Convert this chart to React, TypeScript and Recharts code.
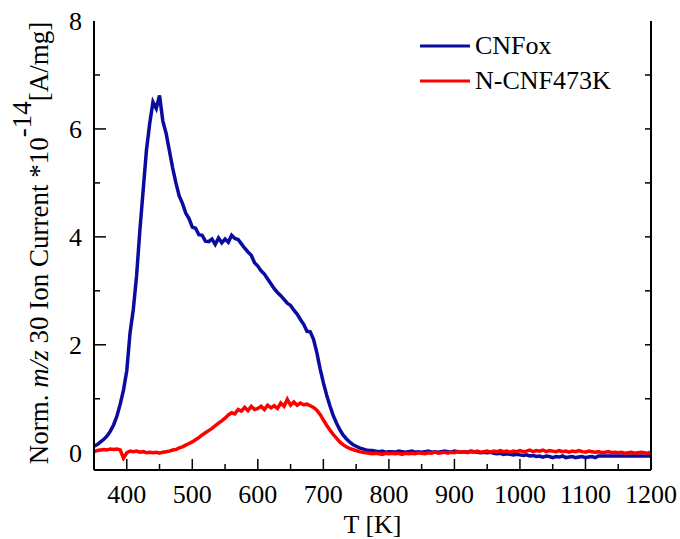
import { Legend, Line, LineChart, XAxis, YAxis } from "recharts";

// temperature grid [K]
const temperature = [
  350, 355, 360, 365, 370, 375, 380, 385, 390, 395, 400, 405, 410, 415, 420, 425, 430, 435, 440, 445,
  450, 455, 460, 465, 470, 475, 480, 485, 490, 495, 500, 505, 510, 515, 520, 525, 530, 535, 540, 545,
  550, 555, 560, 565, 570, 575, 580, 585, 590, 595, 600, 605, 610, 615, 620, 625, 630, 635, 640, 645,
  650, 655, 660, 665, 670, 675, 680, 685, 690, 695, 700, 705, 710, 715, 720, 725, 730, 735, 740, 745,
  750, 755, 760, 765, 770, 775, 780, 785, 790, 795, 800, 805, 810, 815, 820, 825, 830, 835, 840, 845,
  850, 855, 860, 865, 870, 875, 880, 885, 890, 895, 900, 905, 910, 915, 920, 925, 930, 935, 940, 945,
  950, 955, 960, 965, 970, 975, 980, 985, 990, 995, 1000, 1005, 1010, 1015, 1020, 1025, 1030, 1035, 1040, 1045,
  1050, 1055, 1060, 1065, 1070, 1075, 1080, 1085, 1090, 1095, 1100, 1105, 1110, 1115, 1120, 1125, 1130, 1135, 1140, 1145,
  1150, 1155, 1160, 1165, 1170, 1175, 1180, 1185, 1190, 1195, 1200,
];

const cnfox = [
  0.12, 0.15, 0.2, 0.25, 0.31, 0.4, 0.52, 0.68, 0.9, 1.16, 1.52, 2.22, 2.66, 3.28, 4.12, 4.86, 5.6, 6.1, 6.5, 6.38,
  6.62, 6.15, 5.92, 5.6, 5.28, 5.0, 4.76, 4.62, 4.44, 4.34, 4.18, 4.16, 4.04, 4.03, 3.92, 3.91, 3.96, 3.86, 3.98, 3.89,
  3.96, 3.9, 4.03, 3.97, 3.95, 3.87, 3.79, 3.72, 3.66, 3.52, 3.46, 3.37, 3.31, 3.22, 3.13, 3.04, 2.97, 2.91, 2.84, 2.77,
  2.73, 2.64, 2.57, 2.47, 2.38, 2.25, 2.24, 2.1, 1.86, 1.56, 1.3, 1.07, 0.87, 0.69, 0.55, 0.43, 0.33, 0.26, 0.2, 0.15,
  0.12, 0.09, 0.07, 0.05, 0.04, 0.04, 0.03, 0.02, 0.03, 0.01, 0.02, 0.02, 0.01, 0.03, 0.02, 0.01, 0.02, 0.03, 0.01, 0.02,
  0.01, 0.02, 0.03, 0.01, 0.02, 0.01, 0.02, 0.03, 0.02, 0.01, 0.03, 0.02, 0.01, 0.02, 0.01, 0.03, 0.02, 0.01, 0.0, 0.01,
  0.0, 0.01, -0.01, -0.02, -0.01, -0.03, -0.02, -0.03, -0.04, -0.03, -0.04, -0.05, -0.04, -0.06, -0.05, -0.07, -0.06, -0.08, -0.06, -0.07,
  -0.09, -0.07, -0.08, -0.06, -0.09, -0.08, -0.07, -0.09, -0.08, -0.07, -0.09, -0.08, -0.07, -0.09, -0.06, -0.06, -0.06, -0.06, -0.06, -0.06,
  -0.06, -0.06, -0.06, -0.06, -0.06, -0.06, -0.06, -0.06, -0.06, -0.06, -0.06,
];

const ncnf473k = [
  0.02, 0.04, 0.05, 0.06, 0.05, 0.07, 0.06, 0.07, 0.05, -0.1, 0.0, 0.03, 0.02, 0.03, 0.01, 0.02, 0.0, 0.01, 0.0, 0.01,
  -0.01, 0.01, 0.02, 0.03, 0.05, 0.06, 0.09, 0.11, 0.14, 0.17, 0.2, 0.24, 0.28, 0.33, 0.37, 0.41, 0.45, 0.5, 0.55, 0.59,
  0.64, 0.7, 0.74, 0.72, 0.8, 0.77, 0.84, 0.78, 0.86, 0.8, 0.82, 0.86, 0.8, 0.88, 0.83, 0.87, 0.82, 0.92, 0.86, 0.99,
  0.88, 0.94, 0.88, 0.92, 0.89, 0.9, 0.87, 0.84, 0.79, 0.71, 0.61, 0.51, 0.42, 0.34, 0.27, 0.2, 0.15, 0.11, 0.08, 0.06,
  0.04, 0.02, 0.01, 0.0, -0.01, -0.02, -0.01, -0.02, -0.03, -0.01, -0.02, -0.01, -0.02, -0.01, -0.03, -0.01, -0.02, -0.01, -0.02, 0.0,
  -0.01, -0.02, 0.0, -0.01, 0.01, -0.01, 0.0, 0.01, -0.01, 0.01, 0.0, 0.02, 0.01, 0.02, 0.0, 0.02, 0.01, 0.03, 0.01, 0.02,
  0.03, 0.01, 0.03, 0.02, 0.04, 0.02, 0.03, 0.01, 0.03, 0.02, 0.04, 0.02, 0.03, 0.05, 0.02, 0.04, 0.03, 0.05, 0.02, 0.04,
  0.03, 0.02, 0.04, 0.02, 0.03, 0.01, 0.03, 0.02, 0.04, 0.02, 0.01, 0.03, 0.02, 0.01, 0.02, 0.0, 0.01, 0.02, 0.0, 0.01,
  0.0, 0.01, -0.01, 0.0, 0.01, -0.01, 0.0, 0.01, 0.0, -0.01, 0.01,
];

const xTicks = [350, 400, 450, 500, 550, 600, 650, 700, 750, 800, 850, 900, 950, 1000, 1050, 1100, 1150, 1200];
const yTicks = [0, 1, 2, 3, 4, 5, 6, 7, 8];

const BLUE = "#0a0ca0";
const RED = "#ff0000";
const FONT = "Times New Roman, Liberation Serif, Tinos, FreeSerif, serif";

const data = temperature.map((t, i) => ({ t, cnfox: cnfox[i], ncnf: ncnf473k[i] }));

const BottomTick = (props: any) => {
  const { x, y, payload } = props;
  const v = payload.value as number;
  const major = v % 100 === 0;
  return (
    <g>
      {v > 350 && v < 1200 && (
        <line x1={x} x2={x} y1={y} y2={y - (major ? 11 : 6)} stroke="#000" strokeWidth={1.5} />
      )}
      {major && (
        <text x={x} y={y + 33} textAnchor="middle" fontFamily={FONT} fontSize={26} fill="#000" stroke="none">
          {v}
        </text>
      )}
    </g>
  );
};

const TopTick = (props: any) => {
  const { x, y, payload } = props;
  const v = payload.value as number;
  if (v <= 350 || v >= 1200) return <g />;
  return <line x1={x} x2={x} y1={y} y2={y + 3} stroke="#000" strokeWidth={1} />;
};

const LeftTick = (props: any) => {
  const { x, y, payload } = props;
  const v = payload.value as number;
  const major = v % 2 === 0;
  return (
    <g>
      {v > 0 && v < 8 && (
        <line x1={x} x2={x + (major ? 12 : 6)} y1={y} y2={y} stroke="#000" strokeWidth={1.5} />
      )}
      {major && (
        <text x={x - 12} y={y + 9} textAnchor="end" fontFamily={FONT} fontSize={26} fill="#000" stroke="none">
          {v}
        </text>
      )}
    </g>
  );
};

const RightTick = (props: any) => {
  const { x, y, payload } = props;
  const v = payload.value as number;
  if (v <= 0 || v >= 8) return <g />;
  return <line x1={x} x2={x - 6} y1={y} y2={y} stroke="#000" strokeWidth={1.5} />;
};

const YLabel = () => (
  <text
    transform="translate(48,243) rotate(-90)"
    textAnchor="middle"
    fontFamily={FONT}
    fontSize={27}
    fill="#000"
    stroke="none"
  >
    Norm. <tspan fontStyle="italic">m/z</tspan> 30 Ion Current *10
    <tspan dy={-17}>-14</tspan>
    <tspan dy={17}>[A/mg]</tspan>
  </text>
);

const XLabel = (props: any) => {
  const vb = props.viewBox;
  return (
    <text
      x={vb.x + vb.width / 2}
      y={533}
      textAnchor="middle"
      fontFamily={FONT}
      fontSize={26}
      fill="#000"
      stroke="none"
    >
      T [K]
    </text>
  );
};

const legendItems = [
  { name: "CNFox", color: BLUE },
  { name: "N-CNF473K", color: RED },
];

const LegendBox = () => (
  <svg width={200} height={70} style={{ display: "block" }}>
    {legendItems.map((it, i) => (
      <g key={it.name}>
        <line x1={0} x2={50} y1={18 + i * 35} y2={18 + i * 35} stroke={it.color} strokeWidth={3} />
        <text x={55} y={26 + i * 35} fontFamily={FONT} fontSize={26} fill="#000">
          {it.name}
        </text>
      </g>
    ))}
  </svg>
);

export default function App() {
  return (
    <div style={{ position: "absolute", left: 0, top: 0, width: 680, height: 539, background: "#fff" }}>
      <LineChart width={680} height={539} data={data} margin={{ top: 21, right: 0, bottom: 0, left: 0 }}>
        <XAxis
          dataKey="t"
          type="number"
          domain={[350, 1200]}
          ticks={xTicks}
          interval={0}
          height={69}
          tickSize={0}
          tickMargin={0}
          tickLine={false}
          tick={<BottomTick />}
          axisLine={{ stroke: "#000", strokeWidth: 2 }}
          allowDataOverflow
          label={(p: any) => <XLabel {...p} />}
        />
        <XAxis
          xAxisId="top"
          orientation="top"
          type="number"
          domain={[350, 1200]}
          ticks={xTicks}
          interval={0}
          height={0}
          tickSize={0}
          tickMargin={0}
          tickLine={false}
          tick={<TopTick />}
          axisLine={{ stroke: "#000", strokeWidth: 2 }}
          allowDataOverflow
        />
        <YAxis
          type="number"
          domain={[-0.32, 8]}
          ticks={yTicks}
          interval={0}
          width={94}
          tickSize={0}
          tickMargin={0}
          tickLine={false}
          tick={<LeftTick />}
          axisLine={{ stroke: "#000", strokeWidth: 2 }}
          allowDataOverflow
          label={() => <YLabel />}
        />
        <YAxis
          yAxisId="right"
          orientation="right"
          type="number"
          domain={[-0.32, 8]}
          ticks={yTicks}
          interval={0}
          width={29}
          tickSize={0}
          tickMargin={0}
          tickLine={false}
          tick={<RightTick />}
          axisLine={{ stroke: "#000", strokeWidth: 2 }}
          allowDataOverflow
        />
        <Line
          type="linear"
          dataKey="cnfox"
          stroke={BLUE}
          strokeWidth={3.5}
          dot={false}
          isAnimationActive={false}
        />
        <Line
          type="linear"
          dataKey="ncnf"
          stroke={RED}
          strokeWidth={3.5}
          dot={false}
          isAnimationActive={false}
        />
        <Legend
          layout="horizontal"
          verticalAlign="middle"
          align="center"
          content={() => <LegendBox />}
          wrapperStyle={{ position: "absolute", top: 28, left: 420, width: "auto", height: "auto" }}
        />
      </LineChart>
    </div>
  );
}
